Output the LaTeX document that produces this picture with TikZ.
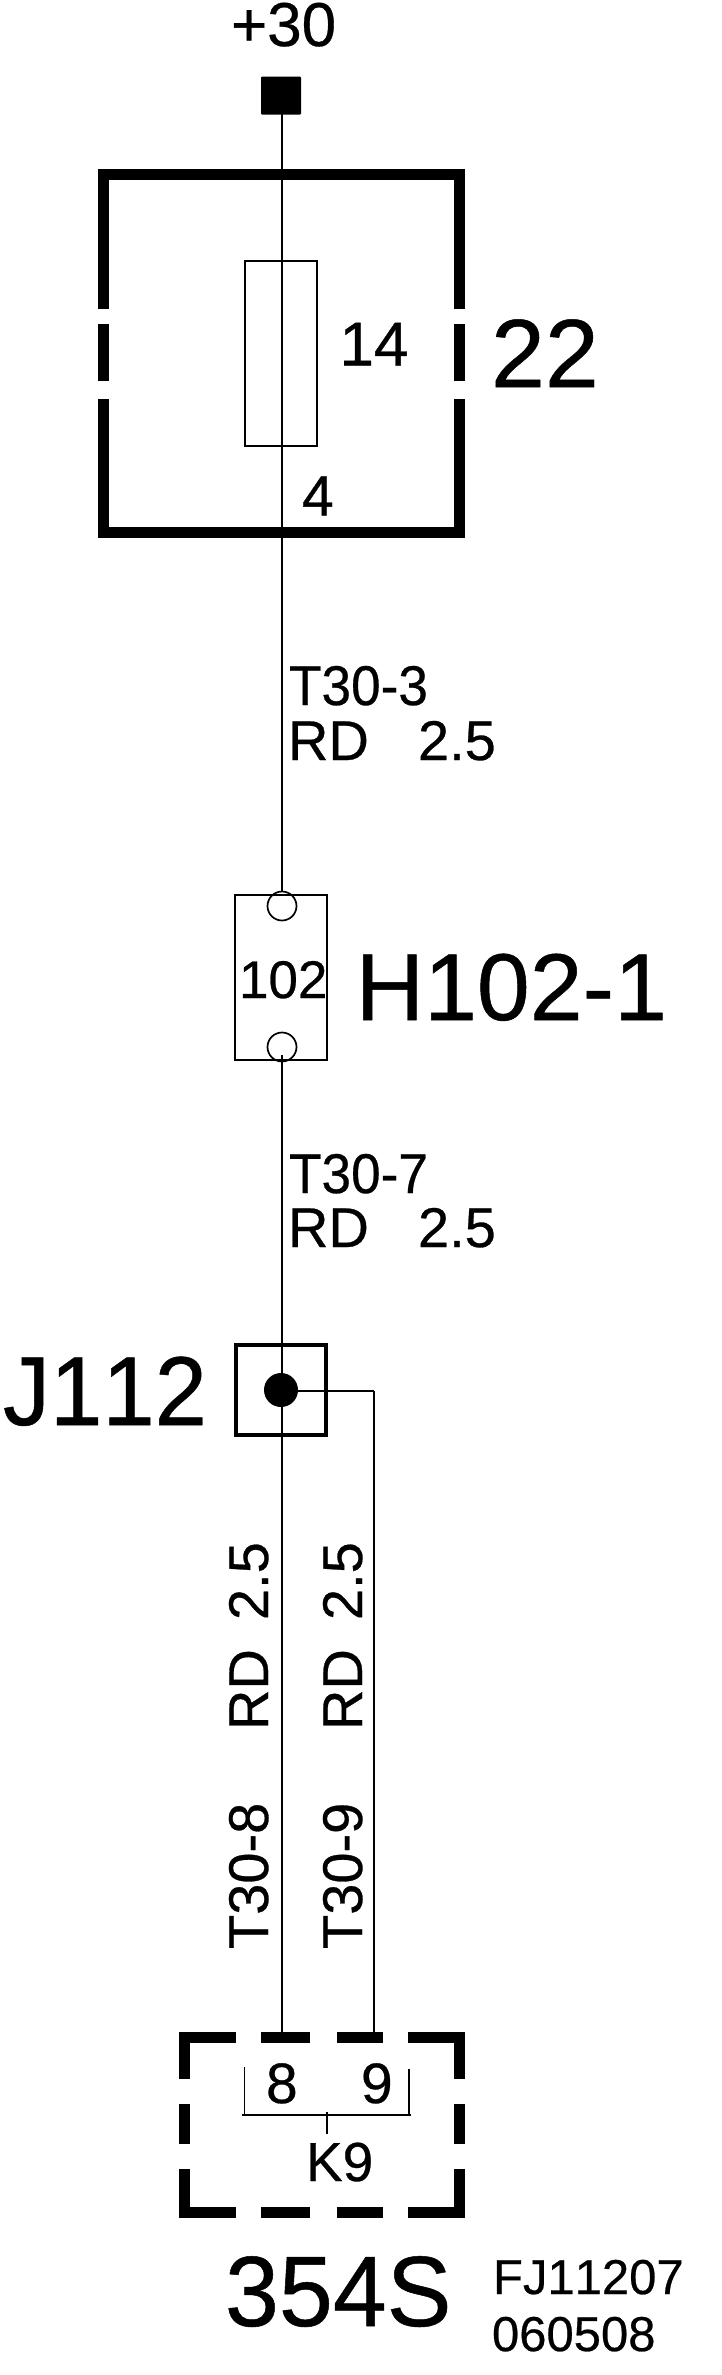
\documentclass[tikz,border=0pt]{standalone}
\usepackage{fontspec}
\usepackage{graphicx}
\setmainfont{Liberation Sans}
\newfontfamily\lf[FakeBold=0.5,Kerning=Off]{Liberation Sans}
\newcommand{\fs}[1]{\lf\fontsize{#1}{#1}\selectfont}
\tikzset{
  x=1pt,y=-1pt,
  wire/.style={line width=2pt,black},
  heavy/.style={line width=11pt,black,line cap=butt,line join=miter},
  lbl/.style={inner sep=0pt,outer sep=0pt,anchor=base west,text=black},
  lblv/.style={lbl,rotate=90},
}
\begin{document}
\begin{tikzpicture}
\useasboundingbox[fill=white] (0,0) rectangle (721,2375);
\node[fill=black,rounded corners=1pt,minimum width=40pt,minimum height=38pt,inner sep=0pt] (term) at (281,95.5) {};
% fuse box
\draw[heavy] (103,308.5) -- (103,174) -- (459,174) -- (459,308.5);
\draw[heavy] (103,324) -- (103,381);
\draw[heavy] (459,324) -- (459,381);
\draw[heavy] (103,399) -- (103,532.5) -- (459,532.5) -- (459,399);
\node[draw,line width=2pt,inner sep=0pt,minimum width=72pt,minimum height=185pt] (fuse) at (281,353) {};
% H102
\node[draw,line width=2pt,inner sep=0pt,minimum width=92pt,minimum height=165pt] (hbox) at (281,977.5) {};
\node[circle,draw,line width=1.7pt,inner sep=0pt,minimum size=29pt] (hc1) at (282,906) {};
\node[circle,draw,line width=1.7pt,inner sep=0pt,minimum size=29pt] (hc2) at (282,1047) {};
% J112
\node[draw,line width=3.4pt,inner sep=0pt,minimum width=90pt,minimum height=90pt] (jbox) at (281,1390) {};
\node[circle,fill=black,inner sep=0pt,minimum size=34pt] (jdot) at (281,1390) {};
% K9 dashed box
\draw[heavy] (236,2037.5) -- (184.5,2037.5) -- (184.5,2078.5);
\draw[heavy] (261,2037.5) -- (310,2037.5);
\draw[heavy] (336.5,2037.5) -- (383,2037.5);
\draw[heavy] (408,2037.5) -- (459,2037.5) -- (459,2078.5);
\draw[heavy] (184.5,2104) -- (184.5,2144);
\draw[heavy] (459,2104) -- (459,2144);
\draw[heavy] (184.5,2169) -- (184.5,2212.5) -- (236,2212.5);
\draw[heavy] (261,2212.5) -- (310,2212.5);
\draw[heavy] (336.5,2212.5) -- (383,2212.5);
\draw[heavy] (408,2212.5) -- (459,2212.5) -- (459,2169);
\coordinate (pin8) at (282,2034);
\coordinate (pin9) at (374,2034);
\coordinate (jturn) at (374,1391);
\coordinate (t0) at (282,114);
\coordinate (j0) at (282,1391);
\coordinate (h0) at (282,1055);
% connectors
\draw[wire] (t0) -- (hc1.north);
\draw[wire] (h0) -- (pin8);
\draw[wire,line cap=square] (j0) -- (jturn);
\draw[wire,line cap=square] (jturn) -- (pin9);
% bracket
\coordinate (brL) at (244.6,2115);
\coordinate (brR) at (408.7,2115);
\coordinate (brS) at (327,2134);
\draw[line width=1.7pt] (244.6,2067) -- (brL);
\draw[line width=1.7pt] (408.7,2069) -- (brR);
\draw[line width=2pt] (242,2115) -- (410.5,2115);
\draw[line width=1.7pt] (327,2112) -- (brS);
% labels
\node[lbl,font=\fs{62}] (l30) at (231,46) {+30};
\node[lbl,font=\fs{62}] (l14) at (339.5,365.5) {14};
\node[lbl,font=\fs{97}] (l22) at (491,387) {22};
\node[lbl,font=\fs{57}] (l4) at (302,515.5) {4};
\node[lbl,font=\fs{56}] (lt3) at (289,705) {\scalebox{.95}[1]{T30-3}};
\node[lbl,font=\fs{56}] (lrd3) at (288,760) {RD};
\node[lbl,font=\fs{56}] (l25a) at (418,760) {2.5};
\node[lbl,font=\fs{53}] (l102) at (239,998) {102};
\node[lbl,font=\fs{95}] (lh) at (355.5,1020) {H102-1};
\node[lbl,font=\fs{56}] (lt7) at (289,1193) {\scalebox{.95}[1]{T30-7}};
\node[lbl,font=\fs{56}] (lrd7) at (288,1247) {RD};
\node[lbl,font=\fs{56}] (l25b) at (418,1247) {2.5};
\node[lbl,font=\fs{98}] (lj) at (3,1425) {\scalebox{.96}[1]{J112}};
\node[lblv,font=\fs{56}] (v1) at (268,1949) {T30-8};
\node[lblv,font=\fs{56}] (v2) at (362,1949) {T30-9};
\node[lblv,font=\fs{56}] (v3) at (268,1730) {RD};
\node[lblv,font=\fs{56}] (v4) at (362,1730) {RD};
\node[lblv,font=\fs{56}] (v5) at (268,1620) {2.5};
\node[lblv,font=\fs{56}] (v6) at (362,1620) {2.5};
\node[lbl,font=\fs{57}] (l8) at (266,2103) {8};
\node[lbl,font=\fs{57}] (l9) at (361,2103) {9};
\node[lbl,font=\fs{55}] (lk) at (306,2181) {K9};
\node[lbl,font=\fs{100}] (l354) at (225,2326) {\scalebox{.97}[1]{354S}};
\node[lbl,font=\fs{49}] (lfj) at (493,2294) {FJ11207};
\node[lbl,font=\fs{49}] (l06) at (492,2351) {060508};
\end{tikzpicture}
\end{document}
